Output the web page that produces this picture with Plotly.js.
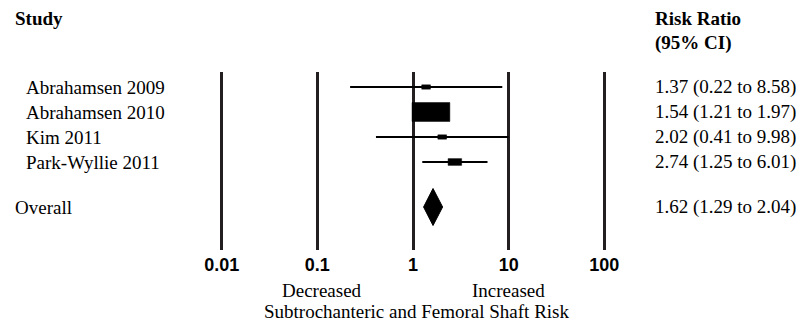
<!DOCTYPE html>
<html>
<head>
<meta charset="utf-8">
<script src="https://cdn.plot.ly/plotly-3.0.1.min.js"></script>
<style>html,body{margin:0;padding:0;background:#fff;}#chart{width:799px;height:324px;}</style>
</head>
<body>
<div id="chart"></div>
<script>
// ---- Data ----
const studies = ['Abrahamsen 2009', 'Abrahamsen 2010', 'Kim 2011', 'Park-Wyllie 2011'];
const riskRatio = [1.37, 1.54, 2.02, 2.74];
const ciLower = [0.22, 1.21, 0.41, 1.25];
const ciUpper = [8.58, 1.97, 9.98, 6.01];
const weights = [4.3, 81.0, 4.3, 10.4];   // relative study weights (box area)
const overallLabel = 'Overall';
const overallRR = [1.62];
const overallLower = [1.29];
const overallUpper = [2.04];
const tickVals = [0.01, 0.1, 1, 10, 100];
const tickText = ['0.01', '0.1', '1', '10', '100'];
const xTitle = 'Subtrochanteric and Femoral Shaft Risk';
const leftLabel = 'Decreased';
const rightLabel = 'Increased';

// ---- Layout helpers ----
const serif = 'Liberation Serif, Times New Roman, serif';
const sans = 'Liberation Sans, Arial, sans-serif';
const xRange = [-2.3, 2.3];
const yRange = [7.52, 0.4];
const plotW = 440, plotH = 178;
const pxPerDecade = plotW / (xRange[1] - xRange[0]);
const pxPerRow = plotH / (yRange[0] - yRange[1]);
const rowY = studies.map((s, i) => i + 1);
const overallY = studies.length + 1.8;
const fmt = v => v.toFixed(2);
const ciText = (r, l, u) => `${fmt(r)} (${fmt(l)} to ${fmt(u)})`;

const traces = [
  {
    type: 'scatter', mode: 'markers',
    x: riskRatio, y: rowY,
    marker: {size: 1, color: '#000'},
    error_x: {
      type: 'data', symmetric: false,
      array: riskRatio.map((r, i) => ciUpper[i] - r),
      arrayminus: riskRatio.map((r, i) => r - ciLower[i]),
      color: '#000', thickness: 2, width: 0
    },
    hoverinfo: 'skip'
  }
];

// weight boxes (area ~ weight), drawn as filled polygons through the axes
const boxScale = 4.2;
riskRatio.forEach((r, i) => {
  const wPx = boxScale * Math.sqrt(weights[i]);
  const hw = (wPx / 2) / pxPerDecade;      // half width in decades
  const hh = (wPx / 4) / pxPerRow;         // half height in rows
  const xl = r * Math.pow(10, -hw), xr = r * Math.pow(10, hw);
  traces.push({
    type: 'scatter', mode: 'lines',
    x: [xl, xr, xr, xl, xl],
    y: [rowY[i] - hh, rowY[i] - hh, rowY[i] + hh, rowY[i] + hh, rowY[i] - hh],
    fill: 'toself', fillcolor: '#000', line: {color: '#000', width: 0.5},
    hoverinfo: 'skip'
  });
});

// overall diamond
traces.push({
  type: 'scatter', mode: 'lines',
  x: [overallLower[0], overallRR[0], overallUpper[0], overallRR[0], overallLower[0]],
  y: [overallY, overallY - 0.74, overallY, overallY + 0.74, overallY],
  fill: 'toself', fillcolor: '#000',
  line: {color: '#000', width: 1},
  hoverinfo: 'skip'
});

const txt = {family: serif, size: 19, color: '#000'};
const annotations = [];
studies.forEach((s, i) => {
  annotations.push({xref: 'paper', yref: 'y', x: -0.384, y: rowY[i], xanchor: 'left', yanchor: 'middle',
    text: s, showarrow: false, font: txt});
  annotations.push({xref: 'paper', yref: 'y', x: 1.0448, y: rowY[i], xanchor: 'left', yanchor: 'middle',
    text: ciText(riskRatio[i], ciLower[i], ciUpper[i]), showarrow: false, font: txt});
});
annotations.push({xref: 'paper', yref: 'y', x: -0.41, y: overallY, xanchor: 'left', yanchor: 'middle',
  text: overallLabel, showarrow: false, font: txt});
annotations.push({xref: 'paper', yref: 'y', x: 1.0448, y: overallY, xanchor: 'left', yanchor: 'middle',
  text: ciText(overallRR[0], overallLower[0], overallUpper[0]), showarrow: false, font: txt});
// headers
annotations.push({xref: 'paper', yref: 'paper', x: -0.41, y: 1.298, xanchor: 'left', yanchor: 'middle',
  text: '<b>Study</b>', showarrow: false, font: txt});
annotations.push({xref: 'paper', yref: 'paper', x: 1.0448, y: 1.298, xanchor: 'left', yanchor: 'middle',
  text: '<b>Risk Ratio</b>', showarrow: false, font: txt});
annotations.push({xref: 'paper', yref: 'paper', x: 1.0448, y: 1.163, xanchor: 'left', yanchor: 'middle',
  text: '<b>(95% CI)</b>', showarrow: false, font: txt});
// decreased / increased
annotations.push({xref: 'x', yref: 'paper', x: Math.log10(tickVals[1]), y: -0.225, xanchor: 'center', yanchor: 'middle', xshift: 5,
  text: leftLabel, showarrow: false, font: txt});
annotations.push({xref: 'x', yref: 'paper', x: Math.log10(tickVals[3]), y: -0.225, xanchor: 'center', yanchor: 'middle',
  text: rightLabel, showarrow: false, font: txt});
annotations.push({xref: 'paper', yref: 'paper', x: 0.5, y: -0.347, xanchor: 'center', yanchor: 'middle', xshift: 3,
  text: xTitle, showarrow: false, font: txt});

const layout = {
  width: 799, height: 324,
  margin: {l: 193, r: 166, t: 72, b: 74},
  paper_bgcolor: '#fff', plot_bgcolor: '#fff',
  showlegend: false,
  xaxis: {
    type: 'log', range: xRange,
    tickvals: tickVals, ticktext: tickText, ticks: '', ticklabelstandoff: 2,
    tickfont: {family: sans, size: 18, color: '#000', weight: 'bold'},
    showgrid: true, gridcolor: '#231f20', gridwidth: 3,
    zeroline: false, showline: false, fixedrange: true
  },
  yaxis: {
    range: yRange, visible: false, showgrid: false, zeroline: false, fixedrange: true
  },
  annotations: annotations
};

Plotly.newPlot('chart', traces, layout, {staticPlot: true, displayModeBar: false});
</script>
</body>
</html>
